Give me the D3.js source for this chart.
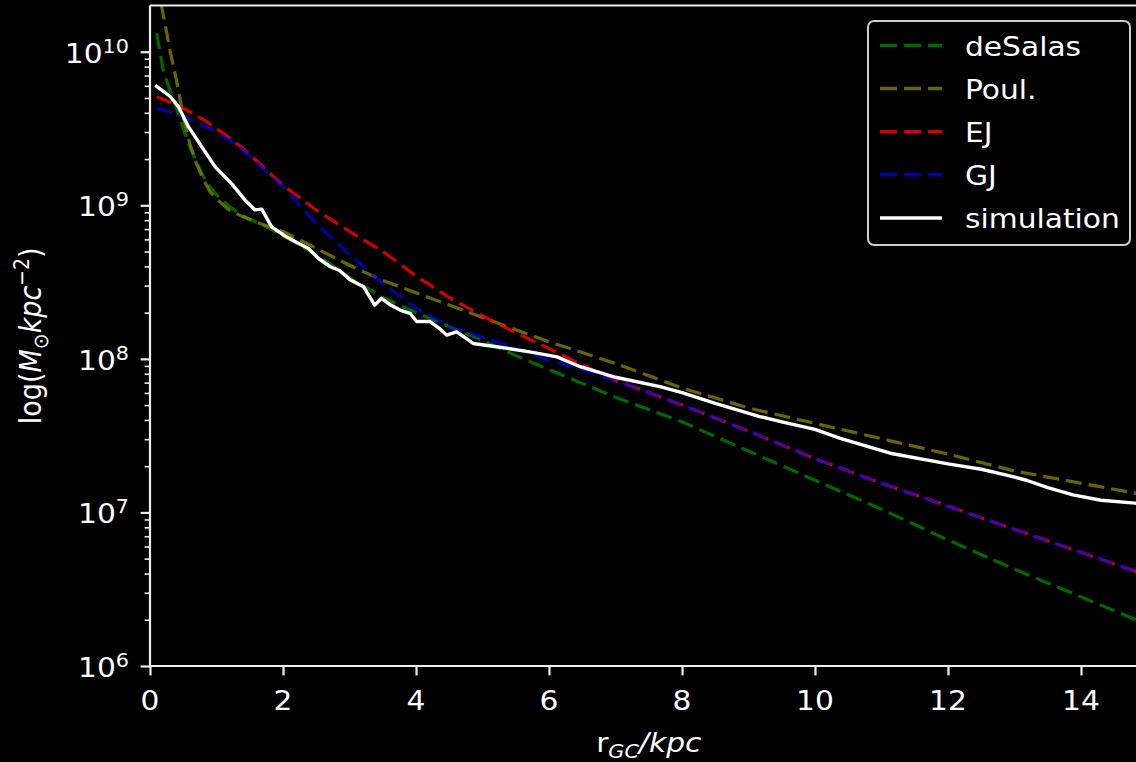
<!DOCTYPE html>
<html><head><meta charset="utf-8">
<script src="https://cdn.jsdelivr.net/npm/d3@7"></script>
<style>
html,body{margin:0;padding:0;background:#000;}
svg{display:block;background:#000;}
text{font-family:"DejaVu Sans",sans-serif;fill:#fff;}
</style></head><body>
<svg id="chart" width="1136" height="762"></svg>
<script>
// ---------- data ----------
const rModel = [0.1, 0.2, 0.3, 0.4, 0.5, 0.6, 0.7, 0.8, 0.9, 1.0, 1.2, 1.4, 1.6, 1.8, 2.0, 2.5, 3.0, 3.5, 4.0, 4.5, 5.0, 5.5, 6.0, 6.5, 7.0, 8.0, 9.0, 10.0, 11.0, 12.0, 13.0, 14.0, 15.0];
const deSalas = [1.32e10, 7.59e9, 5.62e9, 4.27e9, 3.16e9, 2.40e9, 1.91e9, 1.55e9, 1.32e9, 1.17e9, 9.77e8, 8.51e8, 7.76e8, 7.08e8, 6.31e8, 4.79e8, 3.39e8, 2.51e8, 2.00e8, 1.62e8, 1.32e8, 1.05e8, 8.51e7, 6.92e7, 5.62e7, 3.89e7, 2.51e7, 1.62e7, 1.05e7, 6.61e6, 4.27e6, 2.82e6, 1.86e6];
const poul = [2.88e10, 1.74e10, 1.02e10, 6.46e9, 3.80e9, 2.51e9, 1.86e9, 1.48e9, 1.23e9, 1.10e9, 9.23e8, 8.41e8, 7.76e8, 7.24e8, 6.76e8, 5.25e8, 4.07e8, 3.24e8, 2.69e8, 2.24e8, 1.86e8, 1.55e8, 1.29e8, 1.10e8, 9.33e7, 6.46e7, 4.79e7, 3.80e7, 3.02e7, 2.40e7, 1.86e7, 1.55e7, 1.29e7];
const ej = [5.09e9, 4.90e9, 4.68e9, 4.47e9, 4.27e9, 4.07e9, 3.80e9, 3.63e9, 3.39e9, 3.16e9, 2.75e9, 2.34e9, 1.95e9, 1.62e9, 1.35e9, 9.33e8, 6.76e8, 5.01e8, 3.47e8, 2.51e8, 1.91e8, 1.48e8, 1.17e8, 9.12e7, 7.24e7, 5.01e7, 3.39e7, 2.24e7, 1.55e7, 1.10e7, 7.76e6, 5.50e6, 3.89e6];
const gj = [4.28e9, 4.17e9, 4.07e9, 3.89e9, 3.76e9, 3.63e9, 3.47e9, 3.31e9, 3.16e9, 3.02e9, 2.63e9, 2.29e9, 1.91e9, 1.58e9, 1.32e9, 7.59e8, 4.79e8, 3.09e8, 2.14e8, 1.62e8, 1.38e8, 1.17e8, 9.77e7, 8.51e7, 7.24e7, 5.01e7, 3.39e7, 2.24e7, 1.55e7, 1.10e7, 7.76e6, 5.50e6, 3.89e6];
const rSim = [0.08, 0.3, 0.43, 0.58, 0.78, 0.98, 1.23, 1.43, 1.58, 1.68, 1.83, 2.03, 2.23, 2.38, 2.53, 2.71, 2.85, 3.01, 3.21, 3.38, 3.48, 3.62, 3.76, 3.91, 4.01, 4.21, 4.35, 4.46, 4.61, 4.71, 4.86, 5.21, 5.71, 6.12, 6.47, 7.0, 7.67, 8.0, 8.5, 9.17, 9.5, 10.0, 10.38, 11.13, 12.0, 12.5, 12.88, 13.18, 13.5, 13.88, 14.3, 14.81, 15.0];
const simulation = [6.03e9, 5.13e9, 4.37e9, 3.24e9, 2.40e9, 1.78e9, 1.38e9, 1.08e9, 9.33e8, 9.44e8, 7.24e8, 6.31e8, 5.66e8, 5.25e8, 4.52e8, 3.98e8, 3.76e8, 3.27e8, 2.95e8, 2.24e8, 2.48e8, 2.24e8, 2.08e8, 1.98e8, 1.75e8, 1.75e8, 1.58e8, 1.43e8, 1.50e8, 1.40e8, 1.26e8, 1.20e8, 1.11e8, 1.03e8, 8.89e7, 7.59e7, 6.59e7, 6.03e7, 5.13e7, 4.21e7, 3.89e7, 3.47e7, 3.04e7, 2.43e7, 2.07e7, 1.91e7, 1.75e7, 1.62e7, 1.45e7, 1.30e7, 1.20e7, 1.15e7, 1.12e7];
const seriesNames = ["deSalas", "Poul.", "EJ", "GJ", "simulation"];
const xTicks = [0, 2, 4, 6, 8, 10, 12, 14];
const yTickExps = [6, 7, 8, 9, 10];

// ---------- layout ----------
const SX = 1.1;         // horizontal stretch of the reference glyphs
const FS = 27;          // font size
const plot = {left: 150, right: 1147.5, top: 5.5, bottom: 666};
const svg = d3.select("#chart");

const x = d3.scaleLinear().domain([0, 15]).range([plot.left, plot.right]);
const y = d3.scaleLog().domain([1e6, 2e10]).range([plot.bottom, plot.top]);

svg.append("defs").append("clipPath").attr("id", "clip")
  .append("rect").attr("x", plot.left).attr("y", plot.top)
  .attr("width", plot.right - plot.left).attr("height", plot.bottom - plot.top);

function sText(parent, px, py, anchor) {
  return parent.append("text")
    .attr("transform", `translate(${px},${py}) scale(${SX},1)`)
    .attr("text-anchor", anchor)
    .style("font-size", FS + "px");
}

// ---------- series ----------
const styles = [
  {name: seriesNames[0], r: rModel, v: deSalas, color: "#008000", op: 0.8, dash: "16,7"},
  {name: seriesNames[1], r: rModel, v: poul, color: "#808000", op: 0.8, dash: "16,7"},
  {name: seriesNames[2], r: rModel, v: ej, color: "#ff0000", op: 0.8, dash: "16,7"},
  {name: seriesNames[3], r: rModel, v: gj, color: "#0000ff", op: 0.62, dash: "16,7"},
  {name: seriesNames[4], r: rSim, v: simulation, color: "#ffffff", op: 1, dash: null}
];

const line = d3.line().x(d => x(d[0])).y(d => y(d[1]));
const gLines = svg.append("g").attr("clip-path", "url(#clip)");
styles.forEach(s => {
  const pts = s.r.map((r, i) => [r, s.v[i]]);
  gLines.append("path").datum(pts)
    .attr("d", line)
    .attr("fill", "none")
    .attr("stroke", s.color)
    .attr("stroke-opacity", s.op)
    .attr("stroke-width", s.dash ? 3.2 : 3.4)
    .attr("stroke-dasharray", s.dash)
    .attr("stroke-linejoin", "round");
});

// ---------- axes ----------
const axisColor = "#eeeeee";
const xAxis = svg.append("g").attr("transform", `translate(0,${plot.bottom})`)
  .call(d3.axisBottom(x).tickValues(xTicks).tickSize(9.4).tickFormat(""));
xAxis.select(".domain").remove();
xAxis.selectAll(".tick line").attr("stroke", axisColor).attr("stroke-width", 2.2);
xTicks.forEach(t => sText(svg, x(t), 710, "middle").text(t));

const majorY = yTickExps.map(e => Math.pow(10, e));
const minorY = [];
for (let e = 6; e <= 10; e++) for (let k = 2; k <= 9; k++) {
  const v = k * Math.pow(10, e);
  if (v < 2e10) minorY.push(v);
}
const yAxis = svg.append("g").attr("transform", `translate(${plot.left},0)`)
  .call(d3.axisLeft(y).tickValues(majorY).tickSize(9.4).tickFormat(""));
yAxis.select(".domain").remove();
yAxis.selectAll(".tick line").attr("stroke", axisColor).attr("stroke-width", 2.2);
const yMinor = svg.append("g").attr("transform", `translate(${plot.left},0)`)
  .call(d3.axisLeft(y).tickValues(minorY).tickSize(5.4).tickFormat(""));
yMinor.select(".domain").remove();
yMinor.selectAll(".tick line").attr("stroke", axisColor).attr("stroke-width", 1.6);

yTickExps.forEach(e => {
  const t = sText(svg, 129, y(Math.pow(10, e)) + 11, "end");
  t.append("tspan").text("10");
  t.append("tspan").attr("dy", -10).style("font-size", (FS * 0.7) + "px").text(e);
});

// spines
const spines = svg.append("g").attr("stroke", axisColor).attr("stroke-width", 2.2).attr("fill", "none");
spines.append("line").attr("x1", plot.left).attr("x2", plot.left).attr("y1", plot.top).attr("y2", plot.bottom);
spines.append("line").attr("x1", plot.left).attr("x2", plot.right).attr("y1", plot.bottom).attr("y2", plot.bottom);
spines.append("line").attr("x1", plot.left).attr("x2", plot.right).attr("y1", plot.top).attr("y2", plot.top);
spines.append("line").attr("x1", plot.right).attr("x2", plot.right).attr("y1", plot.top).attr("y2", plot.bottom);

// axis titles
const xl = sText(svg, (plot.left + plot.right) / 2, 752, "middle");
xl.append("tspan").text("r");
xl.append("tspan").attr("dy", 6).style("font-size", (FS * 0.7) + "px").style("font-style", "italic").text("GC");
xl.append("tspan").attr("dy", -6).style("font-style", "italic").text("/kpc");

const yl = svg.append("text")
  .attr("transform", `translate(41,${(plot.top + plot.bottom) / 2}) scale(${SX},1) rotate(-90)`)
  .attr("text-anchor", "middle").style("font-size", FS + "px");
yl.append("tspan").text("log(");
yl.append("tspan").style("font-style", "italic").text("M");
yl.append("tspan").attr("dy", 6).style("font-size", (FS * 0.7) + "px").text("\u2299");
yl.append("tspan").attr("dy", -6).style("font-style", "italic").text("kpc");
yl.append("tspan").attr("dy", -11).style("font-size", (FS * 0.7) + "px").text("\u22122");
yl.append("tspan").attr("dy", 11).text(")");

// ---------- legend ----------
const lg = svg.append("g");
lg.append("rect").attr("x", 868).attr("y", 21).attr("width", 262).attr("height", 224)
  .attr("rx", 6).attr("ry", 6)
  .attr("fill", "#000").attr("fill-opacity", 0.8)
  .attr("stroke", "#cccccc").attr("stroke-width", 2);
styles.forEach((s, i) => {
  const cy = 45.5 + i * 43.1;
  lg.append("line").attr("x1", 880).attr("x2", 942).attr("y1", cy).attr("y2", cy)
    .attr("stroke", s.color).attr("stroke-opacity", s.op).attr("stroke-width", 3.5)
    .attr("stroke-dasharray", s.dash ? "17,7" : null);
  sText(lg, 965, cy + 10, "start").text(s.name);
});
</script>
</body></html>
